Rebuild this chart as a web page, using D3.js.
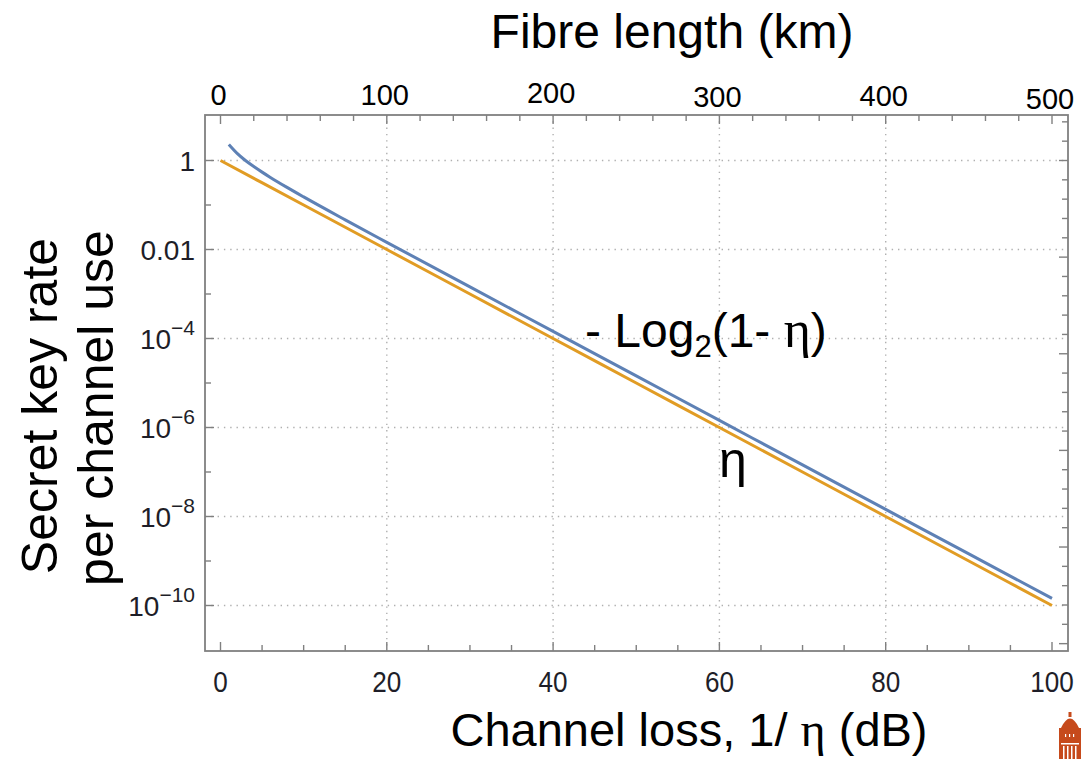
<!DOCTYPE html>
<html>
<head>
<meta charset="utf-8">
<script src="https://cdn.jsdelivr.net/npm/d3@7"></script>
<style>
  html, body { margin: 0; padding: 0; background: #fff; }
  svg { display: block; }
  text { font-family: "Liberation Sans", Arial, sans-serif; }
</style>
</head>
<body>
<svg id="chart" width="1081" height="759"></svg>
<script>
// ---------- data ----------
const lossDb = [0, 10, 20, 30, 40, 50, 60, 70, 80, 90, 100];
const etaValues = [1, 1e-1, 1e-2, 1e-3, 1e-4, 1e-5, 1e-6, 1e-7, 1e-8, 1e-9, 1e-10];

const plobDb = [1, 2, 3, 4, 5, 6, 8, 10, 15, 20, 30, 40, 50, 60, 70, 80, 90, 100];
const plobValues = [2.28, 1.44, 1.0, 0.732, 0.548, 0.417, 0.249, 0.152, 0.0464, 0.0145,
  1.443e-3, 1.443e-4, 1.443e-5, 1.443e-6, 1.443e-7, 1.443e-8, 1.443e-9, 1.443e-10];

const bottomTicks = [0, 20, 40, 60, 80, 100];
const bottomMinor = [0, 5, 10, 15, 20, 25, 30, 35, 40, 45, 50, 55, 60, 65, 70, 75, 80, 85, 90, 95, 100];
const gridX = [20, 40, 60, 80];
const leftTicks = [1, 1e-2, 1e-4, 1e-6, 1e-8, 1e-10];
const leftTickLabels = ["1", "0.01", "-4", "-6", "-8", "-10"];
const leftMinor = [1e-1, 1e-3, 1e-5, 1e-7, 1e-9];
const topTicks = [0, 100, 200, 300, 400, 500];
const topTickLabels = ["0", "100", "200", "300", "400", "500"];
const topLabelDy = [0, 0, -2, 2, 1, 4];
const topMinor = [0,20,40,60,80,100,120,140,160,180,200,220,240,260,280,300,320,340,360,380,400,420,440,460,480,500];
const rightLnTicks = d3.range(2, -26, -1); // exponents of e

// ---------- layout ----------
const svg = d3.select("#chart");
const frame = { left: 205, right: 1068, top: 115, bottom: 651 };

const x = d3.scaleLinear().domain([0, 100]).range([220.5, 1052]);
const xTop = d3.scaleLinear().domain([0, 500]).range([220.5, 1052]);
const y = d3.scaleLog().domain([1, 1e-10]).range([160.5, 605.5]);

const frameColor = "#808080";
const labelColor = "#1e1e28";

// gridlines
const grid = svg.append("g");
grid.selectAll("line.gx").data(gridX).join("line")
  .attr("x1", d => x(d)).attr("x2", d => x(d))
  .attr("y1", frame.top).attr("y2", frame.bottom)
  .attr("stroke", "#b0b0b0").attr("stroke-width", 1.4).attr("stroke-dasharray", "1.4,4.9");
grid.selectAll("line.gy").data(leftTicks).join("line")
  .attr("x1", frame.left).attr("x2", frame.right)
  .attr("y1", d => y(d)).attr("y2", d => y(d))
  .attr("stroke", "#b0b0b0").attr("stroke-width", 1.4).attr("stroke-dasharray", "1.4,4.9");

// frame
svg.append("rect")
  .attr("x", frame.left).attr("y", frame.top)
  .attr("width", frame.right - frame.left).attr("height", frame.bottom - frame.top)
  .attr("fill", "none").attr("stroke", frameColor).attr("stroke-width", 1.8);

// ticks
const ticks = svg.append("g").attr("stroke", frameColor).attr("stroke-width", 1.4);
ticks.selectAll("line.bm").data(bottomMinor).join("line")
  .attr("x1", d => x(d)).attr("x2", d => x(d))
  .attr("y1", frame.bottom).attr("y2", d => frame.bottom - (d % 20 === 0 ? 9 : 6));
ticks.selectAll("line.tm").data(topMinor).join("line")
  .attr("x1", d => xTop(d)).attr("x2", d => xTop(d))
  .attr("y1", frame.top).attr("y2", d => frame.top + (d % 100 === 0 ? 9 : 6));
ticks.selectAll("line.lM").data(leftTicks).join("line")
  .attr("x1", frame.left).attr("x2", frame.left + 9)
  .attr("y1", d => y(d)).attr("y2", d => y(d));
ticks.selectAll("line.lm").data(leftMinor).join("line")
  .attr("x1", frame.left).attr("x2", frame.left + 6)
  .attr("y1", d => y(d)).attr("y2", d => y(d));
ticks.selectAll("line.r").data(rightLnTicks).join("line")
  .attr("x1", frame.right).attr("x2", d => frame.right - (d % 5 === 0 ? 9 : 6))
  .attr("y1", d => y(Math.exp(d))).attr("y2", d => y(Math.exp(d)));

// bottom tick labels
svg.append("g").selectAll("text").data(bottomTicks).join("text")
  .attr("transform", d => `translate(${x(d)},692) scale(0.9,1)`)
  .attr("text-anchor", "middle").attr("font-size", 29).attr("fill", labelColor)
  .text(d => d);

// left tick labels
const lt = svg.append("g").selectAll("text").data(leftTicks).join("text")
  .attr("x", 195).attr("y", d => y(d) + 10)
  .attr("text-anchor", "end").attr("font-size", 28).attr("fill", labelColor);
lt.each(function(d, i) {
  const t = d3.select(this);
  if (i < 2) { t.text(leftTickLabels[i]); }
  else {
    t.append("tspan").text("10");
    t.append("tspan").attr("dy", -14).attr("font-size", 21).text("\u2212" + leftTickLabels[i].slice(1));
  }
});

// top tick labels
svg.append("g").selectAll("text").data(topTicks).join("text")
  .attr("x", d => xTop(d) - 2).attr("y", (d, i) => 105 + topLabelDy[i])
  .attr("text-anchor", "middle").attr("font-size", 29).attr("fill", "#000")
  .text((d, i) => topTickLabels[i]);

// lines
const lineGen = d3.line().x(d => x(d[0])).y(d => y(d[1])).curve(d3.curveMonotoneX);
svg.append("path")
  .datum(lossDb.map((d, i) => [d, etaValues[i]]))
  .attr("d", lineGen).attr("fill", "none")
  .attr("stroke", "#e19c24").attr("stroke-width", 3);
svg.append("path")
  .datum(plobDb.map((d, i) => [d, plobValues[i]]))
  .attr("d", lineGen).attr("fill", "none")
  .attr("stroke", "#5e81b5").attr("stroke-width", 3);

// annotations
const a1 = svg.append("text").attr("x", 585).attr("y", 347).attr("font-size", 48).attr("fill", "#000");
a1.append("tspan").text("- Log");
a1.append("tspan").attr("font-size", 31).attr("dy", 10).text("2");
a1.append("tspan").attr("dy", -10).text("(1- ");
a1.append("tspan").attr("font-family", "Liberation Serif, serif").attr("font-size", 52).text("\u03b7");
a1.append("tspan").text(")");

svg.append("text").attr("x", 719).attr("y", 477).attr("font-size", 50)
  .attr("font-family", "Liberation Serif, serif").attr("fill", "#000").text("\u03b7");

// axis titles
svg.append("text").attr("x", 672).attr("y", 48).attr("text-anchor", "middle")
  .attr("font-size", 48).attr("fill", "#000").text("Fibre length (km)");

const bt = svg.append("text").attr("x", 689).attr("y", 746).attr("text-anchor", "middle")
  .attr("font-size", 47).attr("fill", "#000");
bt.append("tspan").text("Channel loss, 1/ ");
bt.append("tspan").attr("font-family", "Liberation Serif, serif").attr("font-size", 48).text("\u03b7");
bt.append("tspan").text(" (dB)");

svg.append("text").attr("transform", "translate(57,406) rotate(-90)")
  .attr("text-anchor", "middle").attr("font-size", 50).attr("fill", "#000")
  .text("Secret key rate");
svg.append("text").attr("transform", "translate(113,408) rotate(-90)")
  .attr("text-anchor", "middle").attr("font-size", 50).attr("fill", "#000")
  .text("per channel use");

// logo (small building)
const logo = svg.append("g").attr("fill", "#c64a1c");
logo.append("path").attr("d", "M1061,728 Q1070,709 1079,728 Z");
logo.append("rect").attr("x", 1059).attr("y", 728).attr("width", 22).attr("height", 31);
logo.append("rect").attr("x", 1068.5).attr("y", 712).attr("width", 3).attr("height", 5);
const cols = [1063, 1067, 1071, 1075];
logo.selectAll("rect.c").data(cols).join("rect")
  .attr("x", d => d).attr("y", 746).attr("width", 1.5).attr("height", 13).attr("fill", "#fff");
logo.append("rect").attr("x", 1061).attr("y", 743).attr("width", 18).attr("height", 1.5).attr("fill", "#fff");
logo.selectAll("rect.w").data([1065, 1069, 1073]).join("rect")
  .attr("x", d => d).attr("y", 734).attr("width", 1.2).attr("height", 3).attr("fill", "#fff");
</script>
</body>
</html>
